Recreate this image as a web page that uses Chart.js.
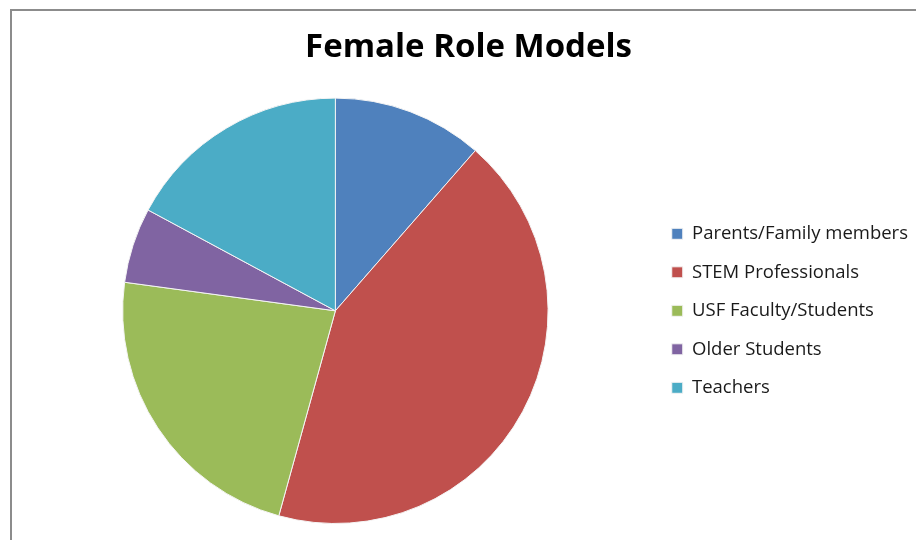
<!DOCTYPE html>
<html>
<head>
<meta charset="utf-8">
<script src="https://cdn.jsdelivr.net/npm/chart.js@4.4.0/dist/chart.umd.min.js"></script>
<style>
  html, body { margin: 0; padding: 0; background: #fff; overflow: hidden; width: 916px; height: 540px; }
  #frame { position: absolute; left: 10px; top: 9px; width: 920px; height: 540px;
           border-left: 2px solid #8c8c8c; border-top: 2px solid #8c8c8c; }
  #wrap { position: absolute; left: 0; top: 0; width: 940px; height: 540px; }
</style>
</head>
<body>
<div id="frame"></div>
<div id="wrap"><canvas id="pieChart" width="940" height="540"></canvas></div>
<script>
'use strict';
// chart data
var categories = ["Parents/Family members", "STEM Professionals", "USF Faculty/Students", "Older Students", "Teachers"];
var counts = [4, 15, 8, 2, 6];
var sliceColors = ["#4f81bd", "#c0504d", "#9bbb59", "#8064a2", "#4bacc6"];

var piejs = function () {
    return {
        init: function () {
            piejs.handlePieChart();
        },

        handlePieChart: function () {
            new Chart("pieChart", {
                type: "pie",
                data: {
                    labels: categories,
                    datasets: [{
                        data: counts,
                        backgroundColor: sliceColors,
                        borderColor: "#f4f4f4",
                        borderWidth: 1
                    }]
                },
                options: {
                    responsive: false,
                    animation: false,
                    layout: {
                        padding: { left: 19, right: 22, top: 0, bottom: 16 }
                    },
                    plugins: {
                        title: {
                            display: true,
                            text: "Female Role Models",
                            color: "#000",
                            font: { family: "'Open Sans'", size: 33, weight: "bold" },
                            padding: { top: 28, bottom: 30 }
                        },
                        legend: {
                            position: "right",
                            fullSize: false,
                            labels: {
                                color: "#1a1a1a",
                                font: { family: "'Open Sans'", size: 18.5 },
                                boxWidth: 11,
                                boxHeight: 11,
                                padding: 20
                            }
                        },
                        tooltip: { enabled: false }
                    }
                }
            });
        }
    };
}();

piejs.init();
</script>
</body>
</html>
